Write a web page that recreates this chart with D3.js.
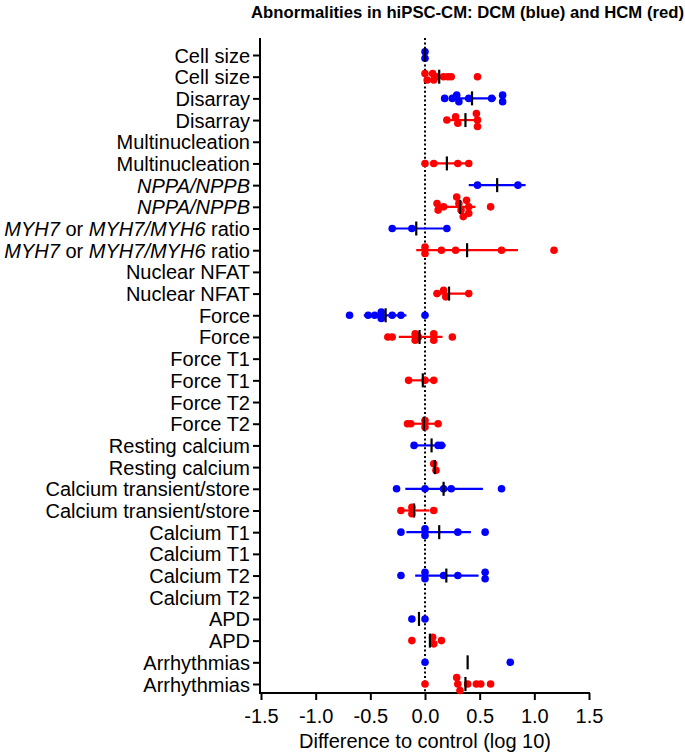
<!DOCTYPE html>
<html><head><meta charset="utf-8">
<script src="https://cdn.jsdelivr.net/npm/d3@7"></script>
<style>body{margin:0;background:#fff}svg{display:block;font-family:"Liberation Sans",Arial,sans-serif}</style>
</head><body><svg id="c" width="685" height="753"></svg>
<script>
// ---------- data ----------
const rowLabels = [
  "Cell size","Cell size","Disarray","Disarray","Multinucleation","Multinucleation",
  "*NPPA/NPPB*","*NPPA/NPPB*","*MYH7* or *MYH7/MYH6* ratio","*MYH7* or *MYH7/MYH6* ratio",
  "Nuclear NFAT","Nuclear NFAT","Force","Force","Force T1","Force T1","Force T2","Force T2",
  "Resting calcium","Resting calcium","Calcium transient/store","Calcium transient/store",
  "Calcium T1","Calcium T1","Calcium T2","Calcium T2","APD","APD","Arrhythmias","Arrhythmias"
];
const rowGroups = ["DCM","HCM","DCM","HCM","DCM","HCM","DCM","HCM","DCM","HCM",
  "DCM","HCM","DCM","HCM","DCM","HCM","DCM","HCM","DCM","HCM",
  "DCM","HCM","DCM","HCM","DCM","HCM","DCM","HCM","DCM","HCM"];
const rowValues = [
  [0, 0],
  [0, 0.02, 0.07, 0.08, 0.11, 0.17, 0.21, 0.24, 0.48],
  [0.18, 0.25, 0.29, 0.31, 0.40, 0.61, 0.71, 0.71],
  [0.20, 0.28, 0.30, 0.47, 0.48, 0.48],
  [],
  [0, 0.08, 0.30, 0.40],
  [0.48, 0.85],
  [0.11, 0.12, 0.17, 0.29, 0.31, 0.33, 0.35, 0.38, 0.40, 0.40, 0.60],
  [-0.30, -0.12, 0.20],
  [0, 0, 0.15, 0.28, 0.70, 1.18],
  [],
  [0.11, 0.17, 0.19, 0.40],
  [-0.69, -0.52, -0.46, -0.40, -0.40, -0.30, -0.22, 0.0],
  [-0.34, -0.30, -0.09, -0.09, -0.06, 0.08, 0.08, 0.25],
  [],
  [-0.15, 0.0, 0.08],
  [],
  [-0.16, -0.13, 0, 0, 0.12],
  [-0.10, 0.12, 0.15],
  [0.08, 0.10],
  [-0.26, 0, 0.17, 0.24, 0.70],
  [-0.22, -0.12, -0.12, 0.08],
  [-0.22, 0, 0, 0.30, 0.55],
  [],
  [-0.22, 0, 0, 0.17, 0.30, 0.55, 0.55],
  [],
  [-0.12, 0.0],
  [-0.12, 0.07, 0.08, 0.15],
  [0, 0.78],
  [0, 0.29, 0.30, 0.32, 0.39, 0.47, 0.51, 0.60]
];
const rowMeans = [0, 0.13, 0.43, 0.37, null, 0.20, 0.66, 0.32, -0.08, 0.385,
  null, 0.22, -0.36, -0.05, null, -0.02, null, -0.01, 0.06, 0.09,
  0.17, -0.10, 0.13, null, 0.195, null, -0.055, 0.045, 0.39, 0.37];
const rowErrLow = [null, null, 0.23, 0.22, null, 0.05, 0.40, 0.11, -0.32, -0.08,
  null, 0.08, -0.56, -0.24, null, -0.15, null, -0.15, -0.10, null,
  -0.18, -0.22, -0.17, null, -0.09, null, null, null, null, null];
const rowErrHigh = [null, null, 0.65, 0.48, null, 0.40, 0.92, 0.46, 0.22, 0.85,
  null, 0.40, -0.17, 0.16, null, 0.10, null, 0.12, 0.19, null,
  0.53, 0.04, 0.42, null, 0.49, null, null, null, null, null];
const xTicks = [-1.5, -1.0, -0.5, 0, 0.5, 1.0, 1.5];
const xTickLabels = ["-1.5", "-1.0", "-0.5", "0.0", "0.5", "1.0", "1.5"];
const groupColors = {DCM: "#0000ff", HCM: "#ff0000"};
const titleText = "Abnormalities in hiPSC-CM: DCM (blue) and HCM (red)";
const xTitle = "Difference to control (log 10)";

// ---------- layout ----------
const svg = d3.select("#c");
const plotLeft = 260, plotRight = 589, plotTop = 38, plotBottom = 693;
const x = d3.scaleLinear().domain([-1.5, 1.5]).range([261, 589]);
const y = d3.scalePoint().domain(d3.range(rowLabels.length)).range([55, 684]);
const R = 3.8;

// zero dotted line
svg.append("line")
  .attr("x1", x(0)).attr("x2", x(0)).attr("y1", plotTop).attr("y2", plotBottom)
  .attr("stroke", "#000").attr("stroke-width", 2).attr("stroke-dasharray", "2,2.4");

// axes
const xAxis = svg.append("g").attr("transform", `translate(0,${plotBottom})`)
  .call(d3.axisBottom(x).tickValues(xTicks).tickFormat((d, i) => xTickLabels[i])
    .tickSize(7).tickSizeOuter(0).tickPadding(9));
xAxis.select(".domain").remove();
xAxis.selectAll(".tick line").attr("stroke-width", 2);
xAxis.selectAll("text").attr("font-size", 20).attr("font-family", "Liberation Sans, Arial, sans-serif").attr("fill", "#000");
svg.append("line").attr("x1", plotLeft - 1).attr("x2", x(1.5) + 1)
  .attr("y1", plotBottom).attr("y2", plotBottom).attr("stroke", "#000").attr("stroke-width", 2);

const yAxis = svg.append("g").attr("transform", `translate(${plotLeft},0)`)
  .call(d3.axisLeft(y).tickSize(7).tickSizeOuter(0).tickPadding(3).tickFormat(""));
yAxis.select(".domain").remove();
yAxis.selectAll(".tick line").attr("stroke-width", 2);
svg.append("line").attr("x1", plotLeft).attr("x2", plotLeft)
  .attr("y1", plotTop).attr("y2", plotBottom + 1).attr("stroke", "#000").attr("stroke-width", 2);

// y labels with italic parts
yAxis.selectAll(".tick").each(function(d) {
  const t = d3.select(this).append("text")
    .attr("x", -10).attr("dy", "0.35em").attr("text-anchor", "end")
    .attr("font-size", 20).attr("fill", "#000");
  rowLabels[d].split("*").forEach((part, i) => {
    if (!part) return;
    t.append("tspan").attr("font-style", i % 2 ? "italic" : "normal").text(part);
  });
});

// error bars
const rows = rowLabels.map((l, i) => ({i, g: rowGroups[i], vals: rowValues[i], mean: rowMeans[i], lo: rowErrLow[i], hi: rowErrHigh[i]}));
svg.append("g").selectAll("line").data(rows.filter(r => r.lo !== null)).join("line")
  .attr("x1", r => x(r.lo)).attr("x2", r => x(r.hi))
  .attr("y1", r => y(r.i)).attr("y2", r => y(r.i))
  .attr("stroke", r => groupColors[r.g]).attr("stroke-width", 2.2);

// dots with simple dodge for overlapping values
const pts = [];
rows.forEach(r => {
  const sorted = r.vals.slice().sort((a, b) => a - b);
  let clusters = [];
  sorted.forEach(v => {
    const last = clusters[clusters.length - 1];
    if (last && Math.abs(x(v) - x(last[last.length - 1])) < 3) last.push(v);
    else clusters.push([v]);
  });
  clusters.forEach(c => c.forEach((v, k) => {
    pts.push({v, i: r.i, g: r.g, off: (k - (c.length - 1) / 2) * 6.5});
  }));
});
svg.append("g").selectAll("circle").data(pts).join("circle")
  .attr("cx", p => x(p.v)).attr("cy", p => y(p.i) + p.off).attr("r", R)
  .attr("fill", p => groupColors[p.g]);

// mean markers
svg.append("g").selectAll("line").data(rows.filter(r => r.mean !== null)).join("line")
  .attr("x1", r => x(r.mean)).attr("x2", r => x(r.mean))
  .attr("y1", r => y(r.i) - 7).attr("y2", r => y(r.i) + 7)
  .attr("stroke", "#000").attr("stroke-width", 2.2);

// titles
svg.append("text").attr("x", 684).attr("y", 18).attr("text-anchor", "end")
  .attr("font-size", 16.7).attr("font-weight", "bold").text(titleText);
svg.append("text").attr("x", (x(-1.5) + x(1.5)) / 2).attr("y", 748).attr("text-anchor", "middle")
  .attr("font-size", 20).text(xTitle);
</script></body></html>
